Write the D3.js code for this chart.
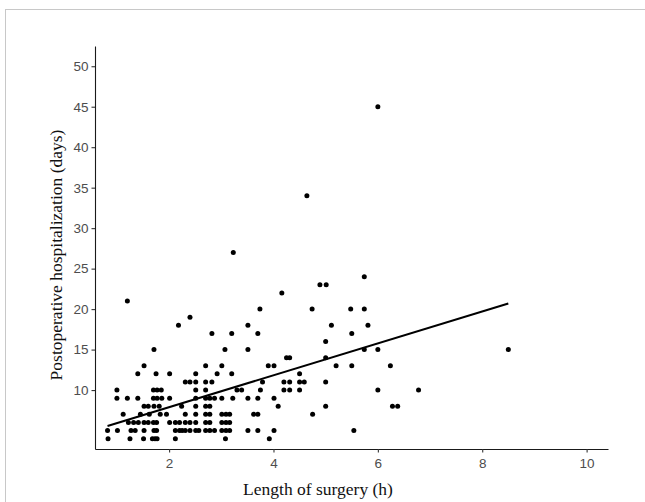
<!DOCTYPE html>
<html>
<head>
<meta charset="utf-8">
<script src="https://cdn.jsdelivr.net/npm/d3@7"></script>
<style>
  body { margin: 0; background: #fff; }
  #chart { width: 645px; height: 502px; }
</style>
</head>
<body>
<div id="chart"></div>
<script>
// Scatter: length of surgery vs postoperative hospitalization, with linear fit
const width = 645, height = 502;
const margin = {top: 46, right: 37, bottom: 53, left: 95};
const tickFont = "'Liberation Sans', Arial, sans-serif";
const titleFont = "'Liberation Serif', 'Times New Roman', serif";

const xTicks = [2, 4, 6, 8, 10];
const yTicks = [10, 15, 20, 25, 30, 35, 40, 45, 50];

// [length of surgery (h), postoperative stay (days)]
const points = [
  [0.83, 4], [1.25, 4], [1.51, 4], [1.68, 4], [1.73, 4], [1.77, 4], [2.12, 4], [3.08, 4], [3.92, 4],
  [0.82, 5], [1.01, 5], [1.27, 5], [1.35, 5], [1.52, 5], [1.71, 5], [1.76, 5], [2.12, 5], [2.20, 5],
  [2.25, 5], [2.31, 5], [2.40, 5], [2.51, 5], [2.57, 5], [2.70, 5], [2.78, 5], [2.87, 5], [3.01, 5],
  [3.09, 5], [3.16, 5], [3.51, 5], [3.70, 5], [4.01, 5], [5.54, 5],
  [1.22, 6], [1.32, 6], [1.41, 6], [1.52, 6], [1.60, 6], [1.70, 6], [1.76, 6], [2.01, 6], [2.12, 6],
  [2.20, 6], [2.31, 6], [2.40, 6], [2.51, 6], [2.70, 6], [2.78, 6], [3.01, 6], [3.09, 6], [3.16, 6],
  [1.12, 7], [1.45, 7], [1.62, 7], [1.83, 7], [1.95, 7], [2.31, 7], [2.51, 7], [2.70, 7], [2.78, 7],
  [3.01, 7], [3.09, 7], [3.16, 7], [3.62, 7], [3.70, 7], [4.75, 7],
  [1.52, 8], [1.60, 8], [1.71, 8], [1.81, 8], [2.24, 8], [2.51, 8], [2.70, 8], [2.78, 8], [4.09, 8],
  [5.00, 8], [6.28, 8], [6.38, 8],
  [1.00, 9], [1.20, 9], [1.40, 9], [1.70, 9], [1.77, 9], [1.86, 9], [2.01, 9], [2.51, 9], [2.70, 9],
  [2.78, 9], [2.87, 9], [3.01, 9], [3.22, 9], [3.51, 9], [3.70, 9], [4.01, 9],
  [1.00, 10], [1.70, 10], [1.77, 10], [1.85, 10], [2.51, 10], [2.70, 10], [3.30, 10], [3.39, 10],
  [3.75, 10], [4.20, 10], [4.31, 10], [4.50, 10], [6.00, 10], [6.78, 10],
  [2.31, 11], [2.40, 11], [2.51, 11], [2.70, 11], [2.82, 11], [3.79, 11], [4.20, 11], [4.31, 11],
  [4.50, 11], [4.59, 11], [5.00, 11],
  [1.40, 12], [1.75, 12], [2.01, 12], [2.51, 12], [2.92, 12], [3.20, 12], [4.50, 12],
  [1.52, 13], [2.70, 13], [3.01, 13], [3.90, 13], [4.01, 13], [5.20, 13], [5.50, 13], [6.24, 13],
  [4.25, 14], [4.31, 14], [5.00, 14],
  [1.71, 15], [3.07, 15], [3.51, 15], [5.74, 15], [6.00, 15], [8.50, 15],
  [5.00, 16],
  [2.82, 17], [3.20, 17], [3.70, 17], [5.50, 17],
  [2.18, 18], [3.51, 18], [5.11, 18], [5.81, 18],
  [2.40, 19],
  [3.74, 20], [4.74, 20], [5.48, 20], [5.74, 20],
  [1.20, 21], [4.16, 22], [4.89, 23], [5.01, 23], [5.74, 24], [3.23, 27], [4.64, 34], [6.00, 45]
];

// fitted regression line endpoints
const fitHours = [0.82, 8.50];
const fitDays = [5.56, 20.7];

const svg = d3.select("#chart")
  .append("svg")
  .attr("width", width)
  .attr("height", height);

// light frame around the figure
svg.append("rect")
  .attr("x", 5.5).attr("y", 9.5)
  .attr("width", 700).attr("height", 600)
  .attr("fill", "none")
  .attr("stroke", "#c8c8c8")
  .attr("stroke-width", 1);

const x = d3.scaleLinear().domain([0.58, 10.41])
  .range([margin.left, width - margin.right]);
const y = d3.scaleLinear().domain([2.72, 52.5])
  .range([height - margin.bottom, margin.top]);

const xAxis = svg.append("g")
  .attr("transform", `translate(0,${height - margin.bottom})`)
  .call(d3.axisBottom(x).tickValues(xTicks).tickSize(3.5).tickPadding(6).tickSizeOuter(0));
const yAxis = svg.append("g")
  .attr("transform", `translate(${margin.left},0)`)
  .call(d3.axisLeft(y).tickValues(yTicks).tickSize(3.5).tickPadding(3).tickSizeOuter(0));

[xAxis, yAxis].forEach(g => {
  g.select(".domain").attr("stroke", "#1a1a1a").attr("stroke-width", 1.1);
  g.selectAll(".tick line").attr("stroke", "#333").attr("stroke-width", 1.1);
  g.selectAll(".tick text")
    .attr("fill", "#4d4d4d")
    .attr("font-family", tickFont)
    .attr("font-size", 13.5);
});

// points
svg.append("g").selectAll("circle").data(points).join("circle")
  .attr("cx", d => x(d[0]))
  .attr("cy", d => y(d[1]))
  .attr("r", 2.5)
  .attr("fill", "#000");

// regression line
svg.append("line")
  .attr("x1", x(fitHours[0])).attr("y1", y(fitDays[0]))
  .attr("x2", x(fitHours[1])).attr("y2", y(fitDays[1]))
  .attr("stroke", "#000")
  .attr("stroke-width", 2);

// axis titles
svg.append("text")
  .attr("x", 318).attr("y", 495)
  .attr("text-anchor", "middle")
  .attr("font-family", titleFont)
  .attr("font-size", 17.5)
  .attr("fill", "#111")
  .text("Length of surgery (h)");

svg.append("text")
  .attr("transform", "rotate(-90)")
  .attr("x", -255).attr("y", 62)
  .attr("text-anchor", "middle")
  .attr("font-family", titleFont)
  .attr("font-size", 17.5)
  .attr("fill", "#111")
  .text("Postoperative hospitalization (days)");
</script>
</body>
</html>
